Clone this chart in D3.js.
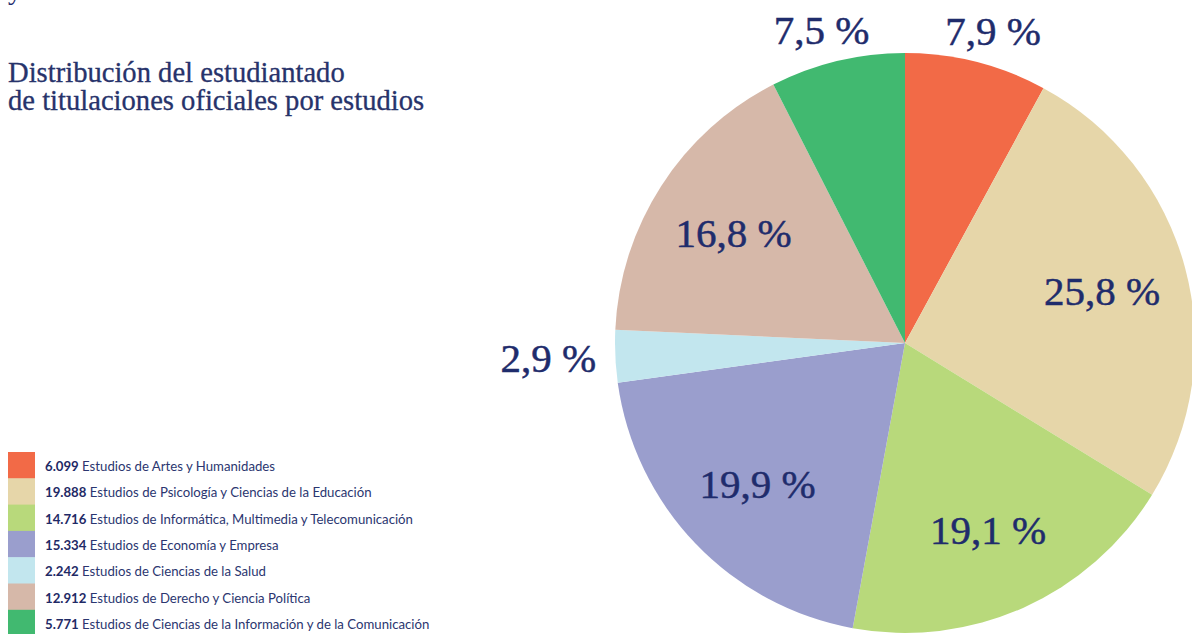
<!DOCTYPE html>
<html>
<head>
<meta charset="utf-8">
<script src="https://cdn.jsdelivr.net/npm/d3@7"></script>
<style>
  body { margin: 0; background: #fff; }
  svg { display: block; }
</style>
</head>
<body>
<script>
    var width = 1192;
    var height = 634;

    // data
    var categories = [
        "Estudios de Artes y Humanidades",
        "Estudios de Psicología y Ciencias de la Educación",
        "Estudios de Informática, Multimedia y Telecomunicación",
        "Estudios de Economía y Empresa",
        "Estudios de Ciencias de la Salud",
        "Estudios de Derecho y Ciencia Política",
        "Estudios de Ciencias de la Información y de la Comunicación"
    ];
    var students = [6099, 19888, 14716, 15334, 2242, 12912, 5771];
    var studentLabels = ["6.099", "19.888", "14.716", "15.334", "2.242", "12.912", "5.771"];
    var percentLabels = ["7,9 %", "25,8 %", "19,1 %", "19,9 %", "2,9 %", "16,8 %", "7,5 %"];
    var colors = ["#f26a47", "#e6d6a9", "#b8d97b", "#9a9ecd", "#c2e6ee", "#d6b8a9", "#41b970"];

    var navy = "#1f2c6c";

    var svg = d3.select("body")
        .append("svg")
        .attr("width", width)
        .attr("height", height);

    // cut-off heading from the page above
    svg.append("text")
        .attr("x", 8)
        .attr("y", -1)
        .attr("font-family", "Liberation Serif, serif")
        .attr("font-size", 28)
        .attr("fill", navy)
        .text("y");

    // title
    var title = svg.append("text")
        .attr("font-family", "Liberation Serif, serif")
        .attr("font-size", 28.6)
        .attr("fill", "#27336b")
        .attr("stroke", "#27336b")
        .attr("stroke-width", 0.3);
    title.append("tspan").attr("x", 8).attr("y", 82).text("Distribución del estudiantado");
    title.append("tspan").attr("x", 8).attr("y", 110).text("de titulaciones oficiales por estudios");

    // pie
    var cx = 905, cy = 343, R = 290;
    var pie = d3.pie().sort(null).value(d => d);
    var arcs = pie(students);
    var arc = d3.arc().innerRadius(0).outerRadius(R);
    var inner = d3.arc().innerRadius(204).outerRadius(204);

    var g = svg.append("g").attr("transform", `translate(${cx},${cy})`);

    g.selectAll("path")
        .data(arcs)
        .join("path")
        .attr("d", arc)
        .attr("fill", (d, i) => colors[i]);

    g.selectAll("text.pct")
        .data(arcs)
        .join("text")
        .attr("class", "pct")
        .attr("font-family", "Liberation Serif, serif")
        .attr("font-size", 41)
        .attr("fill", navy)
        .attr("stroke", navy)
        .attr("stroke-width", 0.5)
        .attr("text-anchor", "middle")
        .attr("dy", "0.35em")
        .text((d, i) => percentLabels[i])
        .each(function(d) {
            var a = (d.startAngle + d.endAngle) / 2;
            var p;
            if (d.endAngle - d.startAngle > 0.1 * 2 * Math.PI) {
                p = inner.centroid(d);
            } else {
                // small slices: label outside the pie
                p = [357 * Math.sin(a), -322 * Math.cos(a)];
            }
            d3.select(this).attr("x", p[0]).attr("y", p[1]);
        });

    // legend
    var rowH = 26.3;
    var legend = svg.append("g").attr("transform", "translate(8,452)");
    var rows = legend.selectAll("g")
        .data(categories)
        .join("g")
        .attr("transform", (d, i) => `translate(0,${i * rowH})`);

    rows.append("rect")
        .attr("width", 27)
        .attr("height", rowH + 0.5)
        .attr("fill", (d, i) => colors[i]);

    var lt = rows.append("text")
        .attr("x", 37)
        .attr("y", 19)
        .attr("font-family", "Lato, sans-serif")
        .attr("font-size", 13.2)
        .attr("fill", "#2b3670");
    lt.append("tspan")
        .attr("font-weight", "bold")
        .attr("fill", "#1f2a66")
        .text((d, i) => studentLabels[i]);
    lt.append("tspan").text(d => " " + d);
</script>
</body>
</html>
